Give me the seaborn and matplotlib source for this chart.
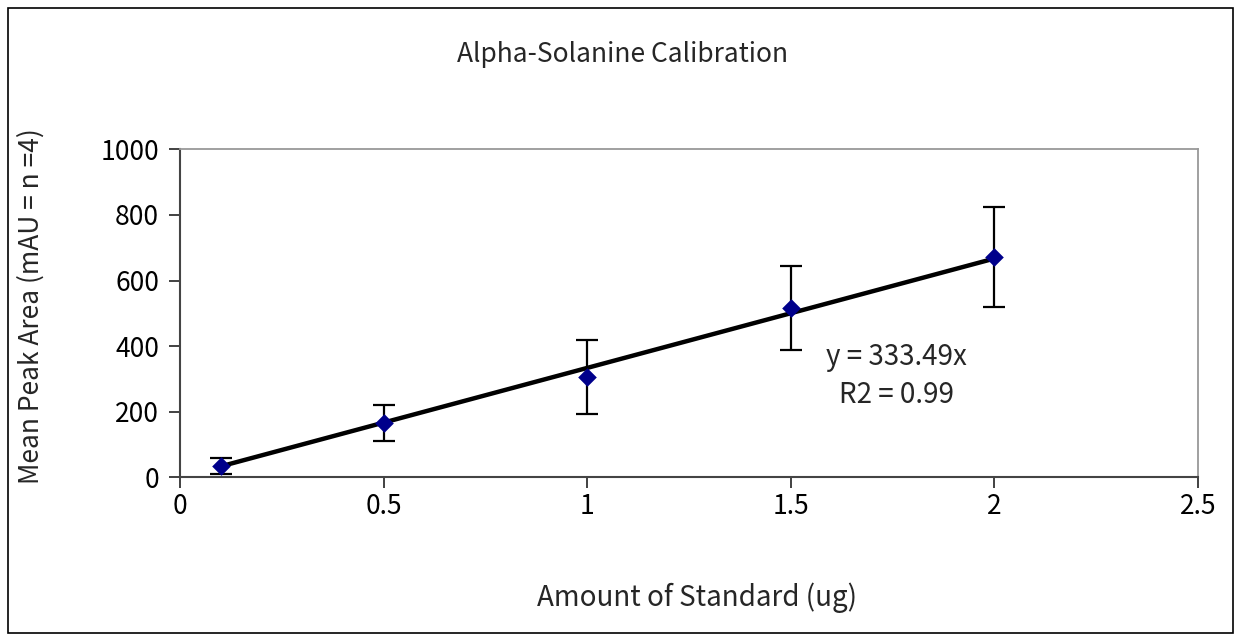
import matplotlib
matplotlib.use("Agg")
import matplotlib.pyplot as plt
import seaborn as sns
import numpy as np
import pandas as pd

amount = [0.1, 0.5, 1.0, 1.5, 2.0]
mean_area = [35, 165, 305, 515, 671]
err = [25, 55, 113, 128, 152]
slope = 333.49
r2 = 0.99
x_ticks = [0, 0.5, 1, 1.5, 2, 2.5]
x_tick_labels = ["0", "0.5", "1", "1.5", "2", "2.5"]
y_ticks = [0, 200, 400, 600, 800, 1000]

sns.set_theme(style="white")
plt.rcParams['font.family'] = ['Noto Sans CJK KR', 'DejaVu Sans']

fig = plt.figure(figsize=(12.42, 6.41), dpi=100)
ax = fig.add_axes([180/1242, 1-477.3/641, (1198-180)/1242, (477.3-149.3)/641])

df = pd.DataFrame({"x": amount, "y": mean_area})
trend = pd.DataFrame({"x": [amount[0], amount[-1]], "y": [slope*amount[0], slope*amount[-1]]})

ax.errorbar(amount, mean_area, yerr=err, fmt='none', ecolor='black', elinewidth=1.6,
            capsize=8, capthick=1.6, zorder=2)
sns.lineplot(data=trend, x="x", y="y", color="black", linewidth=3.2, ax=ax, zorder=3)
sns.scatterplot(data=df, x="x", y="y", marker="D", s=90, color="#00008B", edgecolor="#00008B",
                linewidth=0, ax=ax, zorder=4)

ax.set_xlim(0, 2.5)
ax.set_ylim(0, 1000)
ax.set_xticks(x_ticks)
ax.set_xticklabels(x_tick_labels)
ax.set_yticks(y_ticks)
ax.tick_params(axis='both', direction='out', length=8, width=1.3, color='#333333',
               labelsize=19, labelcolor='black', bottom=True, left=True)
ax.tick_params(axis='x', pad=3)
ax.tick_params(axis='y', pad=7)
ax.set_xlabel("")
ax.set_ylabel("")
for s in ['left', 'bottom']:
    ax.spines[s].set_color('#444444')
    ax.spines[s].set_linewidth(1.5)
for s in ['top', 'right']:
    ax.spines[s].set_color('#999999')
    ax.spines[s].set_linewidth(1.3)

fig.text(0.5*(458+788)/1242, 1-55/641, "Alpha-Solanine Calibration", ha='center', va='center', fontsize=19)
fig.text(0.5*(538+855)/1242, 1-598/641, "Amount of Standard (ug)", ha='center', va='center', fontsize=20)
fig.text(31/1242, 1-(306)/641, "Mean Peak Area (mAU = n =4)", ha='center', va='center',
         rotation=90, fontsize=19)

ax.text(1.76, 1000*(477.3-357)/328, "y = 333.49x", ha='center', va='center', fontsize=20)
ax.text(1.76, 1000*(477.3-395)/328, "R2 = 0.99", ha='center', va='center', fontsize=20)

border = plt.Rectangle((8/1242, 1-633/641), (1233-8)/1242, (633-8)/641, transform=fig.transFigure,
                       fill=False, edgecolor='black', linewidth=1.2)
fig.patches.append(border)

fig.savefig("out.png", dpi=100)
